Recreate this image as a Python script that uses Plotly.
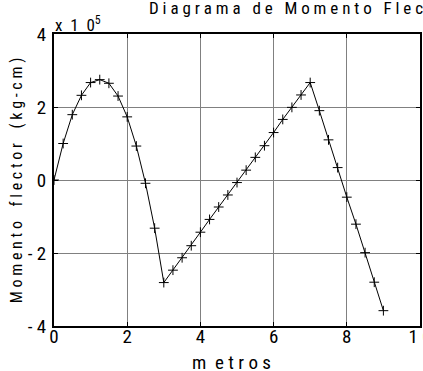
import plotly.graph_objects as go

metros = [0, 0.25, 0.5, 0.75, 1.0, 1.25, 1.5, 1.75, 2.0, 2.25, 2.5, 2.75, 3.0,
          3.25, 3.5, 3.75, 4.0, 4.25, 4.5, 4.75, 5.0, 5.25, 5.5, 5.75, 6.0,
          6.25, 6.5, 6.75, 7.0, 7.25, 7.5, 7.75, 8.0, 8.25, 8.5, 8.75, 9.0]
momento = [0, 100000, 179000, 232000, 267000, 275000, 265000, 230000, 173000,
           93000, -9000, -132000, -281000,
           -247000, -213000, -180000, -143000, -108000, -74000, -41000, -7000,
           27000, 62000, 94000, 130000, 166000, 199000, 233000, 267000,
           190000, 110000, 34000, -47000, -121000, -199000, -280000, -358000]

x_tickvals = [0, 2, 4, 6, 8, 10]
x_ticktext = ["0", "2", "4", "6", "8", "1\u00a00"]
y_tickvals = [-400000, -200000, 0, 200000, 400000]
y_ticktext = ["-\u00a04", "-\u00a02", "0", "2", "4"]

titulo = "Diagrama de Momento Flector"
etiqueta_x = "metros"
etiqueta_y = "Momento flector (kg-cm)"

FONT = "Roboto Condensed, DejaVu Sans Condensed, sans-serif"
NB = "\u00a0"


def espaciar(texto, gap=1, word_gap=3):
    words = texto.split(" ")
    return (NB * word_gap).join((NB * gap).join(list(w)) for w in words)


fig = go.Figure()
fig.add_trace(go.Scatter(
    x=metros, y=momento, mode="lines+markers",
    line=dict(color="black", width=1),
    marker=dict(symbol="cross-thin", size=7, color="black",
                line=dict(width=1, color="black")),
    showlegend=False,
))

axis_common = dict(
    showline=True, linecolor="black", linewidth=2, mirror="ticks",
    ticks="inside", ticklen=4, tickcolor="black", tickwidth=1,
    showgrid=True, gridcolor="#808080", gridwidth=1, zeroline=False,
    tickfont=dict(family=FONT, size=19, color="black"),
    automargin=False, ticklabeloverflow="allow",
)

fig.update_xaxes(range=[0, 10], tickvals=x_tickvals, ticktext=x_ticktext,
                 ticklabelstandoff=-8, **axis_common)
fig.update_yaxes(range=[-400000, 400000], tickvals=y_tickvals, ticktext=y_ticktext,
                 ticklabelstandoff=2, **axis_common)

xlab = etiqueta_x[0] + NB * 2 + NB.join(list(etiqueta_x[1:]))
fig.add_annotation(text=xlab, xref="paper", yref="paper",
                   x=0.486, y=-0.08, xanchor="center", yanchor="top", showarrow=False,
                   font=dict(family=FONT, size=19, color="black"))
fig.add_annotation(text=espaciar(etiqueta_y, 1, 4),
                   xref="paper", yref="paper", x=-0.103, y=0.5, textangle=-90,
                   xanchor="center", yanchor="middle", showarrow=False,
                   font=dict(family=FONT, size=16, color="black"))
fig.add_annotation(text="x" + NB * 2 + "1" + NB * 2 + "0" + "<sup>5</sup>",
                   xref="paper", yref="paper",
                   x=-0.003, y=0.989, xanchor="left", yanchor="bottom", showarrow=False,
                   font=dict(family=FONT, size=17, color="black"))
fig.add_annotation(text=espaciar(titulo, 1, 3),
                   xref="paper", yref="paper", x=0.254, y=1.048,
                   xanchor="left", yanchor="bottom", showarrow=False,
                   font=dict(family=FONT, size=17, color="black"))

fig.update_layout(
    width=423, height=371,
    margin=dict(l=54, r=3, t=34, b=45),
    paper_bgcolor="white", plot_bgcolor="white",
)

fig.write_html("out.html", config={"displayModeBar": False},
               post_script="document.body.style.margin='0';")
